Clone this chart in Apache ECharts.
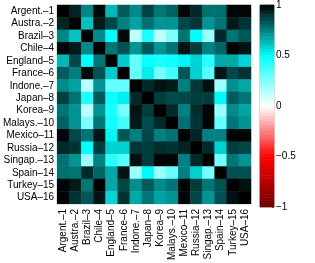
<!DOCTYPE html>
<html><head><meta charset="utf-8">
<script src="https://cdn.jsdelivr.net/npm/echarts@6/dist/echarts.min.js"></script>
<style>html,body{margin:0;padding:0;background:#fff}#c{width:315px;height:263px}</style>
</head><body><div id="c"></div>
<script>
const countries = ['Argent.\u20131','Austra.\u20132','Brazil\u20133','Chile\u20134','England\u20135','France\u20136','Indone.\u20137','Japan\u20138','Korea\u20139','Malays.\u201310','Mexico\u201311','Russia\u201312','Singap.\u201313','Spain\u201314','Turkey\u201315','USA\u201316'];
const corr = [
 [1, .93, .74, .99, .64, .82, .73, .87, .77, .81, .99, .92, .78, .78, .99, .99],
 [.93, 1, .62, .95, .86, .75, .68, .78, .71, .71, .86, .90, .71, .77, .95, .90],
 [.74, .62, 1, .73, .50, .98, .13, .45, .13, .25, .77, .50, .20, .92, .77, .83],
 [.99, .95, .73, 1, .77, .84, .71, .83, .71, .77, .96, .88, .75, .80, 1, .96],
 [.64, .86, .50, .77, 1, .60, .30, .48, .45, .47, .52, .59, .42, .67, .67, .58],
 [.82, .75, .98, .84, .60, 1, .30, .53, .27, .37, .83, .59, .33, .96, .86, .90],
 [.73, .68, .13, .71, .30, .30, 1, .92, .96, .95, .75, .89, .97, .19, .72, .67],
 [.87, .78, .45, .83, .48, .53, .92, 1, .88, .85, .86, .88, .88, .51, .82, .77],
 [.77, .71, .13, .71, .45, .27, .96, .88, 1, .92, .75, .91, .99, .20, .73, .68],
 [.81, .71, .25, .77, .47, .37, .95, .85, .92, 1, .78, .90, .99, .30, .77, .71],
 [.99, .86, .77, .96, .52, .83, .75, .86, .75, .78, 1, .93, .75, .75, .99, .99],
 [.92, .90, .50, .88, .59, .59, .89, .88, .91, .90, .93, 1, .92, .59, .88, .86],
 [.78, .71, .20, .75, .42, .33, .97, .88, .99, .99, .75, .92, 1, .27, .77, .71],
 [.78, .77, .92, .80, .67, .96, .19, .51, .20, .30, .75, .59, .27, 1, .84, .84],
 [.99, .95, .77, 1, .67, .86, .72, .82, .73, .77, .99, .88, .77, .84, 1, .97],
 [.99, .90, .83, .96, .58, .90, .67, .77, .68, .71, .99, .86, .71, .84, .97, 1]
];
const colorbarTicks = [-1, -0.5, 0, 0.5, 1];
const colormap = ['#700000', '#ff0000', '#ffffff', '#00ffff', '#000000'];
const nLevels = 64;

const heatData = [];
corr.forEach((row, i) => row.forEach((v, j) => heatData.push([j, i, v])));
const levels = [];
for (let k = 0; k < nLevels; k++) levels.push(String(k));
const barData = levels.map((_, k) => [0, k, -1 + (k + 0.5) * 2 / nLevels]);

const font = 'Liberation Sans, Arial, sans-serif';
const chart = echarts.init(document.getElementById('c'), null, {renderer: 'canvas'});
chart.setOption({
  animation: false,
  backgroundColor: '#fff',
  grid: [
    {left: 53, top: 5, width: 198, height: 201},
    {left: 260, top: 5, width: 14, height: 202, show: true, borderColor: '#aaa', borderWidth: 1, backgroundColor: 'transparent'}
  ],
  visualMap: {type: 'continuous', min: -1, max: 1, show: false, seriesIndex: [0, 1], inRange: {color: colormap}},
  xAxis: [
    {type: 'category', gridIndex: 0, data: countries, axisLine: {show: false}, axisTick: {show: false},
     axisLabel: {rotate: 90, fontSize: 10, fontFamily: font, color: '#000', margin: 5, interval: 0}},
    {type: 'category', gridIndex: 1, data: ['c'], show: false}
  ],
  yAxis: [
    {type: 'category', gridIndex: 0, data: countries, inverse: true, axisLine: {show: false}, axisTick: {show: false},
     axisLabel: {fontSize: 10, fontFamily: font, color: '#000', margin: 3, interval: 0}},
    {type: 'category', gridIndex: 1, data: levels, show: false},
    {type: 'value', gridIndex: 1, min: colorbarTicks[0], max: colorbarTicks[colorbarTicks.length - 1], interval: 0.5,
     position: 'right', axisLine: {show: false}, splitLine: {show: false},
     axisTick: {show: true, inside: true, length: 2, lineStyle: {color: '#666'}},
     axisLabel: {fontSize: 10, fontFamily: font, color: '#000', margin: 2,
       formatter: v => (v < 0 ? '\u2212' + String(-v) : String(v))}}
  ],
  series: [
    {type: 'heatmap', xAxisIndex: 0, yAxisIndex: 0, data: heatData, progressive: 0, itemStyle: {borderWidth: 0}, emphasis: {disabled: true}},
    {type: 'heatmap', xAxisIndex: 1, yAxisIndex: 1, data: barData, progressive: 0, itemStyle: {borderWidth: 0}, emphasis: {disabled: true}}
  ]
});
</script>
</body></html>
